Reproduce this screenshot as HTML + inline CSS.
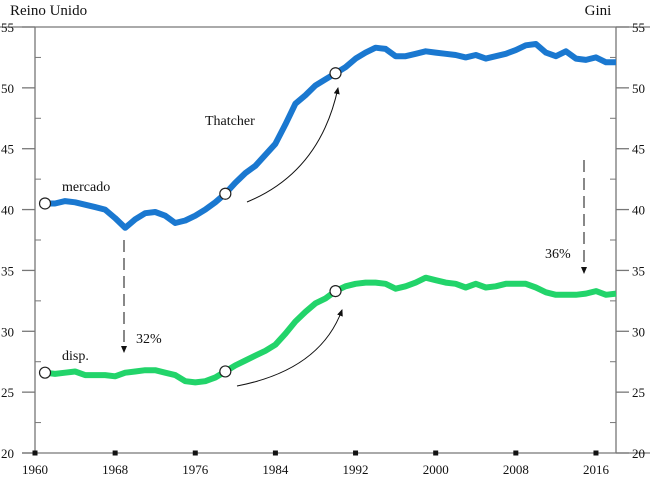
<!DOCTYPE html>
<html><head><meta charset="utf-8"><style>
body{margin:0;background:#fff}
svg text{font-family:"Liberation Serif",serif;font-size:13px;fill:#111}
</style></head><body>
<svg width="650" height="477" id="c">
<text x="10" y="15" font-size="15" style="font-size:15px">Reino Unido</text>
<text x="598" y="15" text-anchor="middle" style="font-size:15px">Gini</text>
<g id="ax"></g>
<g id="ser"></g>
<g id="ann"></g>
</svg>
<script>
const years=[1961,1962,1963,1964,1965,1966,1967,1968,1969,1970,1971,1972,1973,1974,1975,1976,1977,1978,1979,1980,1981,1982,1983,1984,1985,1986,1987,1988,1989,1990,1991,1992,1993,1994,1995,1996,1997,1998,1999,2000,2001,2002,2003,2004,2005,2006,2007,2008,2009,2010,2011,2012,2013,2014,2015,2016,2017,2018];
const mercado=[40.5,40.5,40.7,40.6,40.4,40.2,40.0,39.3,38.5,39.2,39.7,39.8,39.5,38.9,39.1,39.5,40.0,40.6,41.3,42.2,43.0,43.6,44.5,45.4,47.0,48.7,49.4,50.2,50.7,51.2,51.7,52.4,52.9,53.3,53.2,52.6,52.6,52.8,53.0,52.9,52.8,52.7,52.5,52.7,52.4,52.6,52.8,53.1,53.5,53.6,52.9,52.6,53.0,52.4,52.3,52.5,52.1,52.1];
const disp=[26.6,26.5,26.6,26.7,26.4,26.4,26.4,26.3,26.6,26.7,26.8,26.8,26.6,26.4,25.9,25.8,25.9,26.2,26.7,27.2,27.6,28.0,28.4,28.9,29.8,30.8,31.6,32.3,32.7,33.3,33.7,33.9,34.0,34.0,33.9,33.5,33.7,34.0,34.4,34.2,34.0,33.9,33.6,33.9,33.6,33.7,33.9,33.9,33.9,33.6,33.2,33.0,33.0,33.0,33.1,33.3,33.0,33.1];
const yTicks=[20,25,30,35,40,45,50,55];
const xTicks=[1960,1968,1976,1984,1992,2000,2008,2016];
const markerYears=[1961,1979,1990];
const NS="http://www.w3.org/2000/svg";
const X=v=>35+(v-1960)*(616-35)/58;
const Y=v=>453-(v-20)*(453-27)/35;
function mk(p,t,a){const e=document.createElementNS(NS,t);for(const k in a)e.setAttribute(k,a[k]);p.appendChild(e);return e;}
const ax=document.getElementById('ax');
let e;
e=mk(ax,'line',{x1:0,x2:650,y1:27,y2:27,stroke:'#777','stroke-width':1.3});


e=mk(ax,'line',{x1:22,x2:650,y1:453,y2:453,stroke:'#777','stroke-width':1.3});


e=mk(ax,'line',{x1:35,x2:35,y1:27,y2:453,stroke:'#777','stroke-width':1.3});


e=mk(ax,'line',{x1:616,x2:616,y1:27,y2:453,stroke:'#777','stroke-width':1.3});


yTicks.forEach(v=>{
 const y=Y(v);
 e=mk(ax,'line',{x1:22,x2:35,y1:y,y2:y,stroke:'#777','stroke-width':1.3});
 
 
 e=mk(ax,'line',{x1:616,x2:629,y1:y,y2:y,stroke:'#777','stroke-width':1.3});
 
 
 if(v<55){
  e=mk(ax,'line',{x1:35,x2:41,y1:Y(v+2.5),y2:Y(v+2.5),stroke:'#777','stroke-width':1});
  
  
  e=mk(ax,'line',{x1:610,x2:616,y1:Y(v+2.5),y2:Y(v+2.5),stroke:'#777','stroke-width':1});
  
  
 }
 e=mk(ax,'text',{x:14,y:y+5,'text-anchor':'end'});e.textContent=v;
 
 
 e=mk(ax,'text',{x:632,y:y+5});e.textContent=v;
 
 
});
xTicks.forEach(v=>{
 const x=X(v);
 e=mk(ax,'rect',{x:x-2.5,y:450.5,width:5,height:5,fill:'#111'});
 
 
 e=mk(ax,'text',{x:x,y:474,'text-anchor':'middle'});e.textContent=v;
 
 
});
const ser=document.getElementById('ser');
function line(vals,col,name){
 const d=years.map((yr,i)=>(i?'L':'M')+X(yr).toFixed(1)+','+Y(vals[i]).toFixed(1)).join('');
 e=mk(ser,'path',{d:d,fill:'none',stroke:col,'stroke-width':6,'stroke-linejoin':'round'});
 
 
 markerYears.forEach(yr=>{
  const i=years.indexOf(yr);
  e=mk(ser,'circle',{cx:X(yr),cy:Y(vals[i]),r:5.5,fill:'#fff',stroke:'#222','stroke-width':1.2});
  
  
 });
}
line(mercado,'#1a78d0','mercado-line');
line(disp,'#22d46a','disp-line');
</script>
<svg width="650" height="477" style="position:absolute;left:0;top:0">
<defs><marker id="ah" markerWidth="8" markerHeight="8" refX="6" refY="4" orient="auto"><path d="M0,1 L7,4 L0,7 Z" fill="#111"/></marker></defs>
<text x="62" y="191" style="font-size:14px">mercado</text>
<text x="62" y="360" style="font-size:14px">disp.</text>
<text x="205" y="125" style="font-size:14px">Thatcher</text>
<text x="136" y="343" style="font-size:14px">32%</text>
<text x="545" y="258" style="font-size:14px">36%</text>
<line x1="124" y1="240" x2="124" y2="352" stroke="#111" stroke-dasharray="12,6" marker-end="url(#ah)"/>
<line x1="584" y1="160" x2="584" y2="273" stroke="#111" stroke-dasharray="12,6" marker-end="url(#ah)"/>
<path d="M247,202 Q320,172 338,88" fill="none" stroke="#111" marker-end="url(#ah)"/>
<path d="M237,386 Q320,370 342,310" fill="none" stroke="#111" marker-end="url(#ah)"/>
</svg>
</body></html>
